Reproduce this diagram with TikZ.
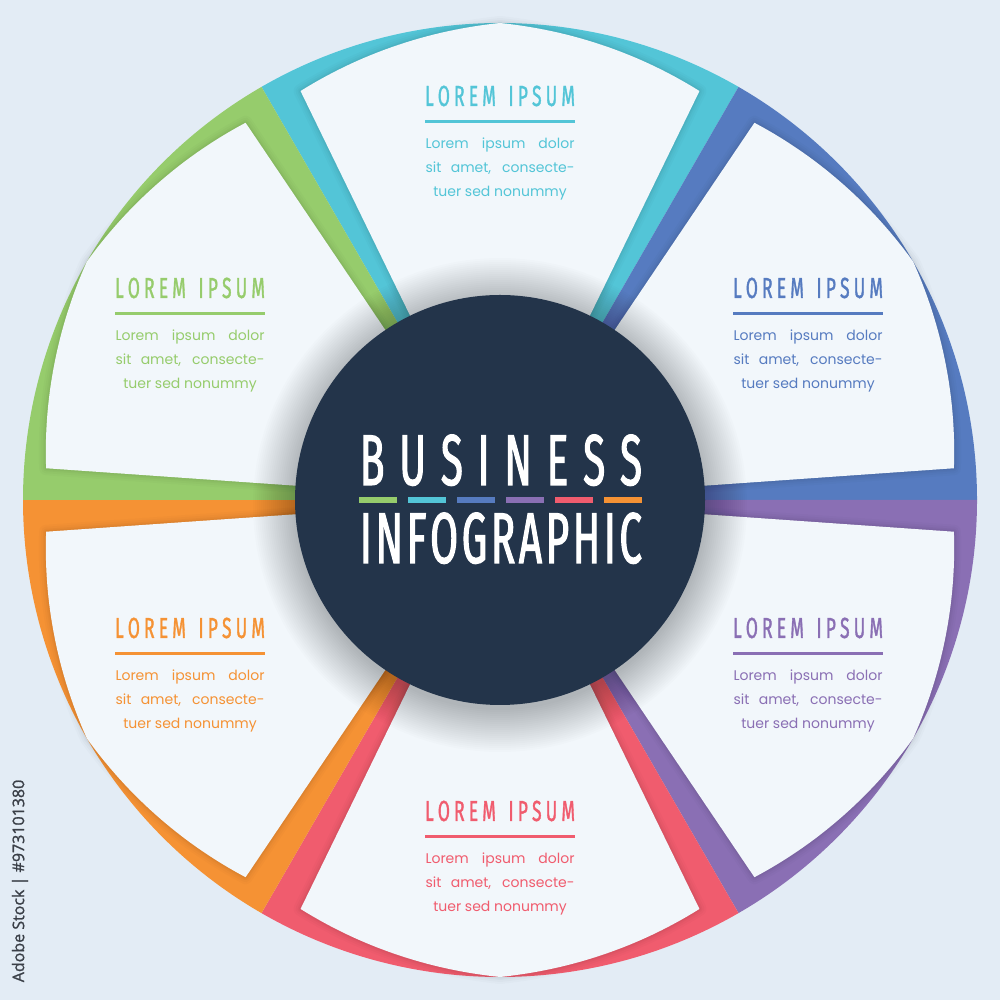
\documentclass[tikz,border=0pt]{standalone}
\usepackage{fontspec}
\setmainfont{Poppins}
\newfontfamily\condfont[FakeStretch=0.6,FakeBold=1.2]{Fira Sans}
\newfontfamily\bigfont[FakeStretch=0.56,FakeBold=1.5]{Fira Sans}
\newfontfamily\idfont[FakeBold=1.2]{Open Sans}
\definecolor{bgc}{HTML}{E3ECF5}
\definecolor{panelc}{HTML}{F2F7FB}
\definecolor{navy}{HTML}{23344A}
\definecolor{cgreen}{HTML}{96CC6C}
\definecolor{ccyan}{HTML}{53C5D7}
\definecolor{cblue}{HTML}{567BC0}
\definecolor{cpurple}{HTML}{8A6FB4}
\definecolor{cred}{HTML}{F05C6E}
\definecolor{corange}{HTML}{F59234}
\definecolor{idgray}{HTML}{3A3F47}
\tikzset{
  titletext/.style={anchor=base, inner sep=0pt, font=\condfont\fontsize{14.5}{14.5}\selectfont},
  bodytext/.style={anchor=base, inner sep=0pt, font=\fontsize{7}{7}\selectfont},
  bigtext/.style={anchor=base, inner sep=0pt, text=white, font=\bigfont\fontsize{36}{36}\selectfont},
}
\newcommand\panelblock[4]{%
  \node[titletext, text=#3] (#4title) at (#1,1000-#2)
    {\makebox[75pt][s]{L\hfill O\hfill R\hfill E\hfill M\hfill\hfill\hfill I\hfill P\hfill S\hfill U\hfill M}};
  \fill[#3] (#1-75,1000-#2-14.5) rectangle (#1+75,1000-#2-17.5);
  \node[bodytext, text=#3] (#4l1) at (#1,1000-#2-43) {\makebox[74.5pt][s]{Lorem ipsum dolor}};
  \node[bodytext, text=#3] (#4l2) at (#1,1000-#2-67) {\makebox[74.5pt][s]{sit amet, consecte-}};
  \node[bodytext, text=#3] (#4l3) at (#1,1000-#2-91) {tuer sed nonummy};
}
\begin{document}
\begin{tikzpicture}[x=0.5pt,y=0.5pt]
\useasboundingbox (0,0) rectangle (1000,1000);
\fill[bgc] (0,0) rectangle (1000,1000);
\begin{scope}[shift={(500,500)}]
  % coloured wedges
  \foreach \a/\c in {60/ccyan, 0/cblue, -60/cpurple, 240/cred, 180/corange, 120/cgreen} {
    \fill[\c] (0,0) -- (\a:477) arc[start angle=\a, end angle=\a+60, radius=477] -- cycle;
  }
  % panels with soft shadow
  \foreach \a in {60, 0, -60, 240, 180, 120} {
    \foreach \w/\o in {14/0.015, 10/0.02, 6/0.025, 3/0.03} {
      \draw[black, opacity=\o, line width=\w*0.5pt, line join=round]
        (0,0) -- (\a+4:455)
        -- plot[domain=\a+4:\a+30, samples=30, variable=\t] (\t:{455+22*(\t-\a-4)/26})
        -- plot[domain=\a+30:\a+56, samples=30, variable=\t] (\t:{477-22*(\t-\a-30)/26})
        -- cycle;
    }
    \fill[panelc] (0,0) -- (\a+4:455)
      -- plot[domain=\a+4:\a+30, samples=30, variable=\t] (\t:{455+22*(\t-\a-4)/26})
      -- plot[domain=\a+30:\a+56, samples=30, variable=\t] (\t:{477-22*(\t-\a-30)/26})
      -- cycle;
  }
  % shadow of the centre disc
  \foreach \r in {247,245,...,205} {
    \fill[black, opacity=0.011] (0,-5) circle[radius=\r];
  }
  \fill[navy] (0,0) circle[radius=205];
\end{scope}
% centre title
\node[bigtext] (business) at (501,515)
  {\makebox[141pt][s]{B\hfill U\hfill S\hfill I\hfill N\hfill E\hfill S\hfill S}};
\node[bigtext] (infographic) at (501,437)
  {\makebox[141pt][s]{I\hfill N\hfill F\hfill O\hfill G\hfill R\hfill A\hfill P\hfill H\hfill I\hfill C}};
\foreach \x/\c in {359/cgreen, 408/ccyan, 457/cblue, 506/cpurple, 555/cred, 604/corange} {
  \fill[\c] (\x,497) rectangle (\x+38,503);
}
% panel texts
\panelblock{500}{106}{ccyan}{top}
\panelblock{808}{298}{cblue}{ur}
\panelblock{190}{298}{cgreen}{ul}
\panelblock{190}{638}{corange}{ll}
\panelblock{808}{638}{cpurple}{lr}
\panelblock{500}{821}{cred}{bot}
% side id
\node[rotate=90, text=idgray, font=\idfont\fontsize{8}{8}\selectfont, inner sep=0pt] (stockid) at (20,119) {Adobe Stock | \#973101380};
\end{tikzpicture}
\end{document}
